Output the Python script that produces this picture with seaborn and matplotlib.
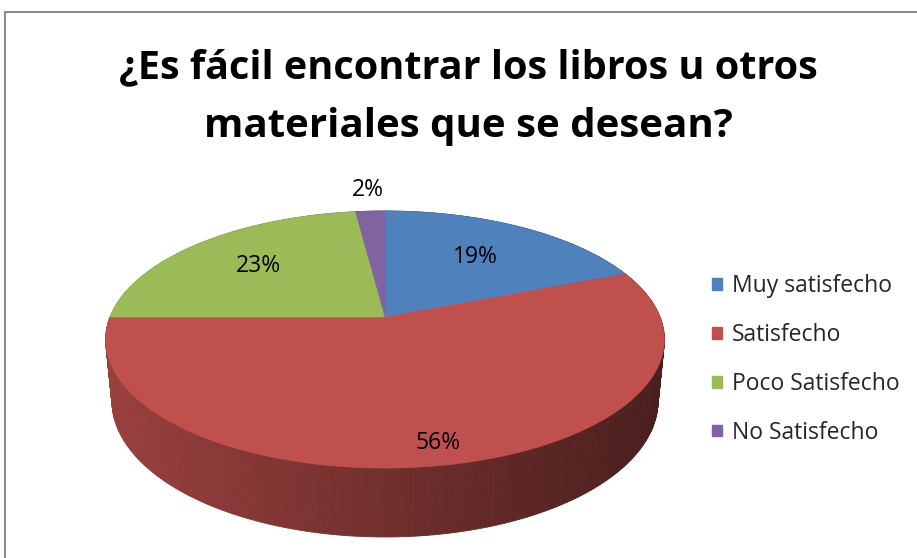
import numpy as np
import matplotlib
matplotlib.use("Agg")
import matplotlib.pyplot as plt
import seaborn as sns
from matplotlib.patches import Polygon, Patch, Rectangle

# data
categories = ["Muy satisfecho", "Satisfecho", "Poco Satisfecho", "No Satisfecho"]
values = [19, 56, 23, 2]
pct_labels = ["19%", "56%", "23%", "2%"]
colors = ["#4F81BD", "#C0504D", "#9BBB59", "#8064A2"]
title_lines = ["¿Es fácil encontrar los libros u otros", "materiales que se desean?"]

sns.set_theme(style="white")
plt.rcParams['font.family'] = ['Open Sans', 'DejaVu Sans']

W, H = 917, 558
fig = plt.figure(figsize=(W / 100, H / 100), dpi=100)
ax = fig.add_axes([0, 0, 1, 1])
# pixel offsets around the pie apex
cx, cy = 385, 317
ax.set_xlim(-cx, W - cx)
ax.set_ylim(-(H - cy), cy)
ax.axis("off")

# perspective 3d pie setup
elev = np.arcsin(0.453)
ce, se = np.cos(elev), np.sin(elev)
d0 = 5.09
F = 1400.0
thick = 0.252


def project(theta, y, r=1.0):
    x3 = r * np.sin(theta)
    z3 = -r * np.cos(theta)
    D = d0 - (z3 * ce + y * se)
    return F * x3 / D, F * (y * ce - z3 * se) / D


fracs = np.array(values, dtype=float) / np.sum(values)
edges = np.concatenate([[0], np.cumsum(fracs)]) * 2 * np.pi

# side walls, far segments first
segs = []
for i in range(len(values)):
    ts = np.linspace(edges[i], edges[i + 1], max(int(fracs[i] * 400), 3))
    base = np.array(matplotlib.colors.to_rgb(colors[i]))
    for a, b in zip(ts[:-1], ts[1:]):
        xa, ya = project(a, 0)
        xb, yb = project(b, 0)
        xa2, ya2 = project(a, -thick)
        xb2, yb2 = project(b, -thick)
        depth = np.cos((a + b) / 2)
        nx = ((xa + xb) / 2 + 280) / 560
        shade = np.clip(0.80 - 0.42 * nx, 0.3, 0.85)
        segs.append((depth, [(xa, ya), (xb, yb), (xb2, yb2), (xa2, ya2)], base * shade))
segs.sort(key=lambda s: -s[0])
for _, pts, col in segs:
    ax.add_patch(Polygon(pts, closed=True, facecolor=col, edgecolor=col, lw=0.6))

# top faces
for i in range(len(values)):
    ts = np.linspace(edges[i], edges[i + 1], 200)
    rim = [project(t, 0) for t in ts]
    ax.add_patch(Polygon([(0, 0)] + rim, closed=True, facecolor=colors[i],
                         edgecolor=colors[i], lw=0.4))

# percentage labels
label_r = [0.64, 0.875, 0.66, 1.24]
for i in range(len(values)):
    mid = (edges[i] + edges[i + 1]) / 2
    lx, ly = project(mid, 0, label_r[i])
    ax.text(lx, ly, pct_labels[i], ha="center", va="center", fontsize=16.5, color="black")

# title, fit to width
ty = [68, 126]
tw = [700, 530]
for line, yy, w in zip(title_lines, ty, tw):
    t = fig.text(468 / W, 1 - yy / H, line, ha="center", va="center",
                 fontsize=30, fontweight="bold", color="black")
    fig.canvas.draw()
    ext = t.get_window_extent()
    t.set_fontsize(30 * w / ext.width)

# legend
handles = [Patch(facecolor=c, edgecolor=c) for c in colors]
fig.legend(handles, categories, loc="center left",
           bbox_to_anchor=(712 / W, 1 - 359.5 / H), frameon=False,
           fontsize=16.5, handlelength=0.42, handleheight=0.42,
           handletextpad=0.45, labelspacing=1.08, borderpad=0, borderaxespad=0)

# chart frame (only top and left edges are visible)
fig.add_artist(Rectangle((5 / W, -0.5), 2, 1.5 - 12 / H, transform=fig.transFigure,
                         fill=False, edgecolor="#8C8C8C", lw=1.5))

fig.savefig("out.png", dpi=100)
